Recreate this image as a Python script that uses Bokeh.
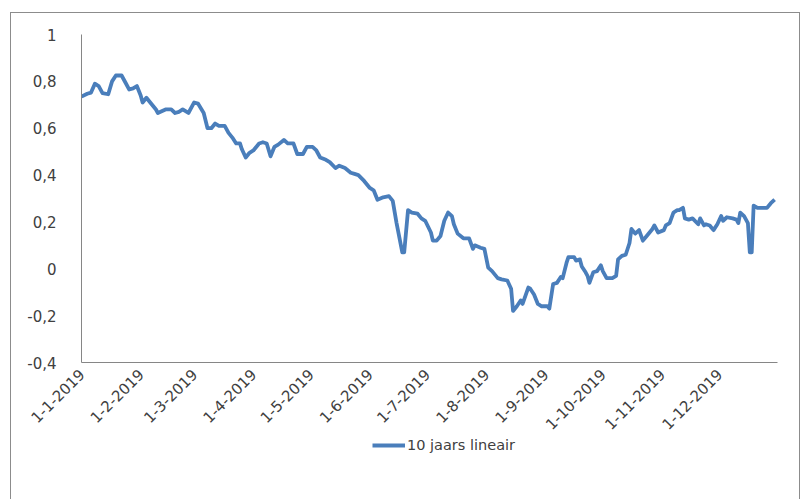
import pandas as pd
from bokeh.plotting import figure
from bokeh.layouts import column
from bokeh.models import FixedTicker, Range1d, Legend, LegendItem
from bokeh.embed import file_html
from bokeh.resources import INLINE

dates = [
    "2019-01-01", "2019-01-04", "2019-01-06", "2019-01-08", "2019-01-10", "2019-01-12", "2019-01-15",
    "2019-01-17", "2019-01-19", "2019-01-22", "2019-01-24", "2019-01-26", "2019-01-28", "2019-01-30",
    "2019-02-01", "2019-02-02", "2019-02-04", "2019-02-06", "2019-02-09", "2019-02-10", "2019-02-14",
    "2019-02-17", "2019-02-19", "2019-02-21", "2019-02-23", "2019-02-26",
    "2019-03-01", "2019-03-03", "2019-03-06", "2019-03-08", "2019-03-10", "2019-03-12", "2019-03-14",
    "2019-03-17", "2019-03-19", "2019-03-21", "2019-03-23", "2019-03-25", "2019-03-26", "2019-03-28",
    "2019-03-30",
    "2019-04-01", "2019-04-04", "2019-04-06", "2019-04-08", "2019-04-10", "2019-04-12", "2019-04-14",
    "2019-04-17", "2019-04-19", "2019-04-22", "2019-04-24", "2019-04-27", "2019-04-29",
    "2019-05-02", "2019-05-04", "2019-05-06", "2019-05-09", "2019-05-11", "2019-05-14", "2019-05-16",
    "2019-05-19", "2019-05-22", "2019-05-24", "2019-05-26", "2019-05-29",
    "2019-06-01", "2019-06-03", "2019-06-05", "2019-06-08", "2019-06-11", "2019-06-13", "2019-06-15",
    "2019-06-18", "2019-06-19", "2019-06-21", "2019-06-23", "2019-06-26", "2019-06-28", "2019-06-30",
    "2019-07-03", "2019-07-04", "2019-07-06", "2019-07-08", "2019-07-10", "2019-07-12", "2019-07-14",
    "2019-07-15", "2019-07-17", "2019-07-20", "2019-07-23", "2019-07-25", "2019-07-26", "2019-07-29",
    "2019-07-31",
    "2019-08-02", "2019-08-04", "2019-08-07", "2019-08-09", "2019-08-12", "2019-08-14", "2019-08-15",
    "2019-08-17", "2019-08-19", "2019-08-20", "2019-08-23", "2019-08-24", "2019-08-26", "2019-08-28",
    "2019-08-30",
    "2019-09-02", "2019-09-03", "2019-09-05", "2019-09-07", "2019-09-09", "2019-09-10", "2019-09-12",
    "2019-09-13", "2019-09-16", "2019-09-17", "2019-09-19", "2019-09-20", "2019-09-22", "2019-09-23",
    "2019-09-24", "2019-09-26", "2019-09-28", "2019-09-30",
    "2019-10-01", "2019-10-03", "2019-10-06", "2019-10-08", "2019-10-09", "2019-10-11", "2019-10-13",
    "2019-10-15", "2019-10-16", "2019-10-18", "2019-10-20", "2019-10-22", "2019-10-24", "2019-10-27",
    "2019-10-28", "2019-10-30",
    "2019-11-02", "2019-11-03", "2019-11-05", "2019-11-07", "2019-11-09", "2019-11-10", "2019-11-12",
    "2019-11-13", "2019-11-15", "2019-11-17", "2019-11-20", "2019-11-21", "2019-11-23", "2019-11-24",
    "2019-11-26", "2019-11-28", "2019-11-30",
    "2019-12-02", "2019-12-03", "2019-12-05", "2019-12-08", "2019-12-10", "2019-12-11", "2019-12-12",
    "2019-12-14", "2019-12-16", "2019-12-17", "2019-12-18", "2019-12-19", "2019-12-21", "2019-12-24",
    "2019-12-26", "2019-12-28", "2019-12-30",
]

rente_10_jaar = [
    0.735, 0.747, 0.752, 0.79, 0.78, 0.75, 0.745, 0.80, 0.825, 0.825, 0.795, 0.765, 0.77, 0.78,
    0.74, 0.71, 0.73, 0.71, 0.68, 0.665, 0.68, 0.68, 0.665, 0.67, 0.68, 0.665,
    0.71, 0.705, 0.665, 0.60, 0.60, 0.62, 0.61, 0.61, 0.58, 0.56, 0.535, 0.535, 0.51, 0.475, 0.495,
    0.505, 0.535, 0.54, 0.535, 0.48, 0.52, 0.53, 0.55, 0.535, 0.535, 0.49, 0.49, 0.52,
    0.52, 0.505, 0.475, 0.465, 0.455, 0.43, 0.44, 0.43, 0.41, 0.405, 0.40, 0.375,
    0.345, 0.335, 0.295, 0.305, 0.31, 0.29, 0.195, 0.07, 0.07, 0.25, 0.24, 0.235, 0.215, 0.205,
    0.155, 0.12, 0.12, 0.14, 0.205, 0.24, 0.225, 0.19, 0.15, 0.13, 0.13, 0.085, 0.10, 0.09, 0.085,
    0.005, -0.01, -0.04, -0.045, -0.05, -0.085, -0.18, -0.16, -0.135, -0.15, -0.08, -0.085, -0.11,
    -0.15, -0.16,
    -0.16, -0.17, -0.065, -0.06, -0.035, -0.04, 0.025, 0.05, 0.05, 0.035, 0.04, 0.01, -0.015, -0.03,
    -0.06, -0.015, -0.01, 0.015,
    -0.01, -0.04, -0.04, -0.03, 0.04, 0.055, 0.06, 0.11, 0.17, 0.15, 0.165, 0.12, 0.14, 0.17, 0.185,
    0.155,
    0.165, 0.185, 0.195, 0.24, 0.25, 0.25, 0.26, 0.215, 0.21, 0.215, 0.19, 0.215, 0.185, 0.19, 0.185,
    0.165, 0.19,
    0.225, 0.205, 0.22, 0.215, 0.21, 0.195, 0.24, 0.225, 0.195, 0.07, 0.07, 0.27, 0.26, 0.26, 0.26,
    0.28, 0.295,
]

x_tick_dates = ["2019-01-01", "2019-02-01", "2019-03-01", "2019-04-01", "2019-05-01", "2019-06-01",
                "2019-07-01", "2019-08-01", "2019-09-01", "2019-10-01", "2019-11-01", "2019-12-01"]
x_tick_labels = ["1-1-2019", "1-2-2019", "1-3-2019", "1-4-2019", "1-5-2019", "1-6-2019",
                 "1-7-2019", "1-8-2019", "1-9-2019", "1-10-2019", "1-11-2019", "1-12-2019"]
y_ticks = [-0.4, -0.2, 0, 0.2, 0.4, 0.6, 0.8, 1]
y_tick_labels = ["-0,4", "-0,2", "0", "0,2", "0,4", "0,6", "0,8", "1"]
series_name = "10 jaars lineair"

FONT = "DejaVu Sans"
TXT = "#404040"
AX = "#868686"
BLUE = "#4a7ebb"
LW = 3.8

x = pd.to_datetime(dates)

def ms(s):
    return float(pd.Timestamp(s).value // 10**6)

p = figure(
    x_axis_type="datetime",
    frame_width=696, frame_height=328,
    min_border_left=70, min_border_right=22, min_border_top=21, min_border_bottom=72,
    output_backend="svg", toolbar_location=None,
    x_range=Range1d(pd.Timestamp("2019-01-01"), pd.Timestamp("2019-12-31 12:00")),
    y_range=Range1d(-0.4, 1.0),
)
p.outline_line_color = None
p.background_fill_color = "white"
p.border_fill_color = "white"
p.xgrid.visible = False
p.ygrid.visible = False

p.line(x, rente_10_jaar, line_color=BLUE, line_width=LW, line_join="round")

xt = [ms(d) for d in x_tick_dates]
p.xaxis.ticker = FixedTicker(ticks=xt)
p.xaxis.major_label_overrides = {t: l for t, l in zip(xt, x_tick_labels)}
p.xaxis.major_label_orientation = 0.785398
p.xaxis.major_tick_line_color = None
p.xaxis.minor_tick_line_color = None
p.xaxis.axis_line_color = AX
p.xaxis.major_label_standoff = 3

p.yaxis.ticker = FixedTicker(ticks=y_ticks)
p.yaxis.major_label_overrides = {t: l for t, l in zip(y_ticks, y_tick_labels)}
p.yaxis.major_tick_line_color = None
p.yaxis.minor_tick_line_color = None
p.yaxis.axis_line_color = AX
p.yaxis.major_label_standoff = 19

for ax in (p.xaxis, p.yaxis):
    ax.major_label_text_font = FONT
    ax.major_label_text_font_size = "15px"
    ax.major_label_text_color = TXT

# legend strip below the chart (its frame is aligned with the chart frame by the column)
lg = figure(width=788, height=65, min_border=0, output_backend="svg", toolbar_location=None,
            x_range=Range1d(0, 1), y_range=Range1d(0, 1))
lg.axis.visible = False
lg.grid.visible = False
lg.outline_line_color = None
lg.background_fill_color = "white"
lg.border_fill_color = "white"
key = lg.line(x=[-5, -4], y=[-5, -5], line_color=BLUE, line_width=LW)

legend = Legend(items=[LegendItem(label=series_name, renderers=[key])],
                location=(291, 47), orientation="horizontal")
legend.border_line_color = None
legend.background_fill_alpha = 0
legend.label_text_font = FONT
legend.label_text_font_size = "14.5px"
legend.label_text_color = TXT
legend.glyph_width = 33
legend.glyph_height = 20
legend.label_standoff = 2
legend.padding = 0
legend.margin = 0
legend.spacing = 0
lg.add_layout(legend, "center")

layout = column(p, lg, spacing=0)
layout.margin = (12, 0, 0, 10)
layout.styles = {"border": "1px solid #8c8c8c"}

open("out.html", "w").write(file_html(layout, INLINE))
